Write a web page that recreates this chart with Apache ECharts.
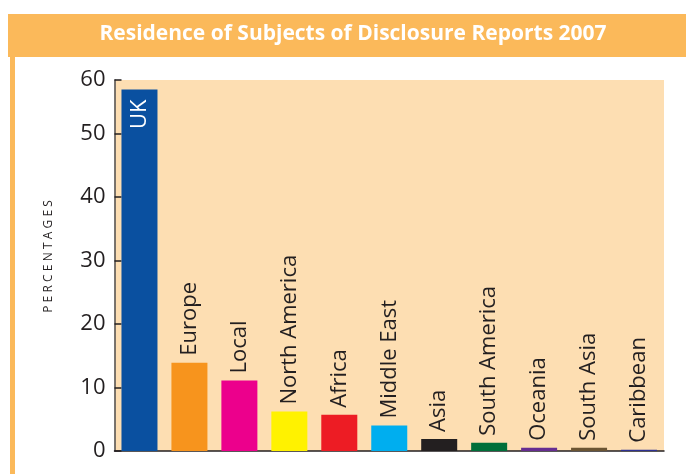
<!DOCTYPE html>
<html>
<head>
<meta charset="utf-8">
<script src="https://cdn.jsdelivr.net/npm/echarts@6/dist/echarts.min.js"></script>
<style>
html,body{margin:0;padding:0;background:#fff;}
#c{width:686px;height:474px;}
</style>
</head>
<body>
<div id="c"></div>
<script>
var categories = ['UK','Europe','Local','North America','Africa','Middle East','Asia','South America','Oceania','South Asia','Caribbean'];
var values = [56.9, 13.9, 11.1, 6.2, 5.7, 4.0, 1.9, 1.3, 0.5, 0.5, 0.2];
var barColors = ['#0A50A0','#F7941D','#EC008C','#FFF200','#ED1C24','#00AEEF','#231F20','#006F3A','#662D91','#6B5533','#2E3192'];
var yTickLabels = ['0','10','20','30','40','50','60'];
var axisTop = 58.4; // the reference draws its "60" tick at this data height
var titleText = 'Residence of Subjects of Disclosure Reports 2007';
var yAxisName = 'PERCENTAGES';

var tickValues = yTickLabels.map(function (t, i) { return i === yTickLabels.length - 1 ? axisTop : Number(t); });

var chart = echarts.init(document.getElementById('c'), null, {renderer: 'canvas'});
var data = values.map(function (v, i) {
  var item = {value: v, itemStyle: {color: barColors[i]}};
  if (i === 0) {
    item.label = {position: 'insideTop', align: 'right', distance: 10, color: '#ffffff'};
  }
  return item;
});

chart.setOption({
  animation: false,
  backgroundColor: '#ffffff',
  graphic: [
    {type: 'rect', shape: {x: 8, y: 14, width: 678, height: 43}, style: {fill: '#FBB95A'}, z: 0},
    {type: 'rect', shape: {x: 10, y: 57, width: 5, height: 420}, style: {fill: '#FBB95A'}, z: 0},
    {type: 'text', x: 353, y: 34, style: {text: titleText, fill: '#ffffff', font: 'bold 21px "Open Sans"', align: 'center', verticalAlign: 'middle'}, z: 10}
  ],
  grid: {left: 114.5, right: 22, top: 80, bottom: 23, show: true, backgroundColor: '#FDDEB2', borderWidth: 0},
  xAxis: {
    type: 'category',
    data: categories,
    axisLine: {lineStyle: {color: '#231F20', width: 1.5}},
    axisTick: {show: false},
    axisLabel: {show: false},
    splitLine: {show: false}
  },
  yAxis: {
    type: 'value',
    min: 0,
    max: axisTop,
    name: yAxisName.split('').join('\u2009\u200A'),
    nameLocation: 'middle',
    nameGap: 60,
    nameRotate: 90,
    nameTextStyle: {fontFamily: 'Open Sans', fontSize: 12, color: '#231F20', padding: [0, 0, 0, 18]},
    axisLine: {show: true, lineStyle: {color: '#4D4D4F', width: 1.5}},
    axisTick: {show: true, inside: true, length: 7, lineStyle: {color: '#231F20', width: 1.5}, customValues: tickValues},
    axisLabel: {
      customValues: tickValues,
      margin: 9,
      fontFamily: 'Open Sans',
      fontSize: 22,
      color: '#231F20',
      formatter: function (v) {
        var idx = tickValues.indexOf(v);
        return idx >= 0 ? yTickLabels[idx] : '';
      }
    },
    splitLine: {show: false}
  },
  series: [{
    type: 'bar',
    data: data,
    barWidth: 36,
    label: {
      show: true,
      position: 'top',
      rotate: 90,
      align: 'left',
      verticalAlign: 'middle',
      distance: 7,
      fontFamily: 'Open Sans',
      fontSize: 22,
      color: '#231F20',
      formatter: function (p) { return categories[p.dataIndex]; }
    }
  }]
});
</script>
</body>
</html>
